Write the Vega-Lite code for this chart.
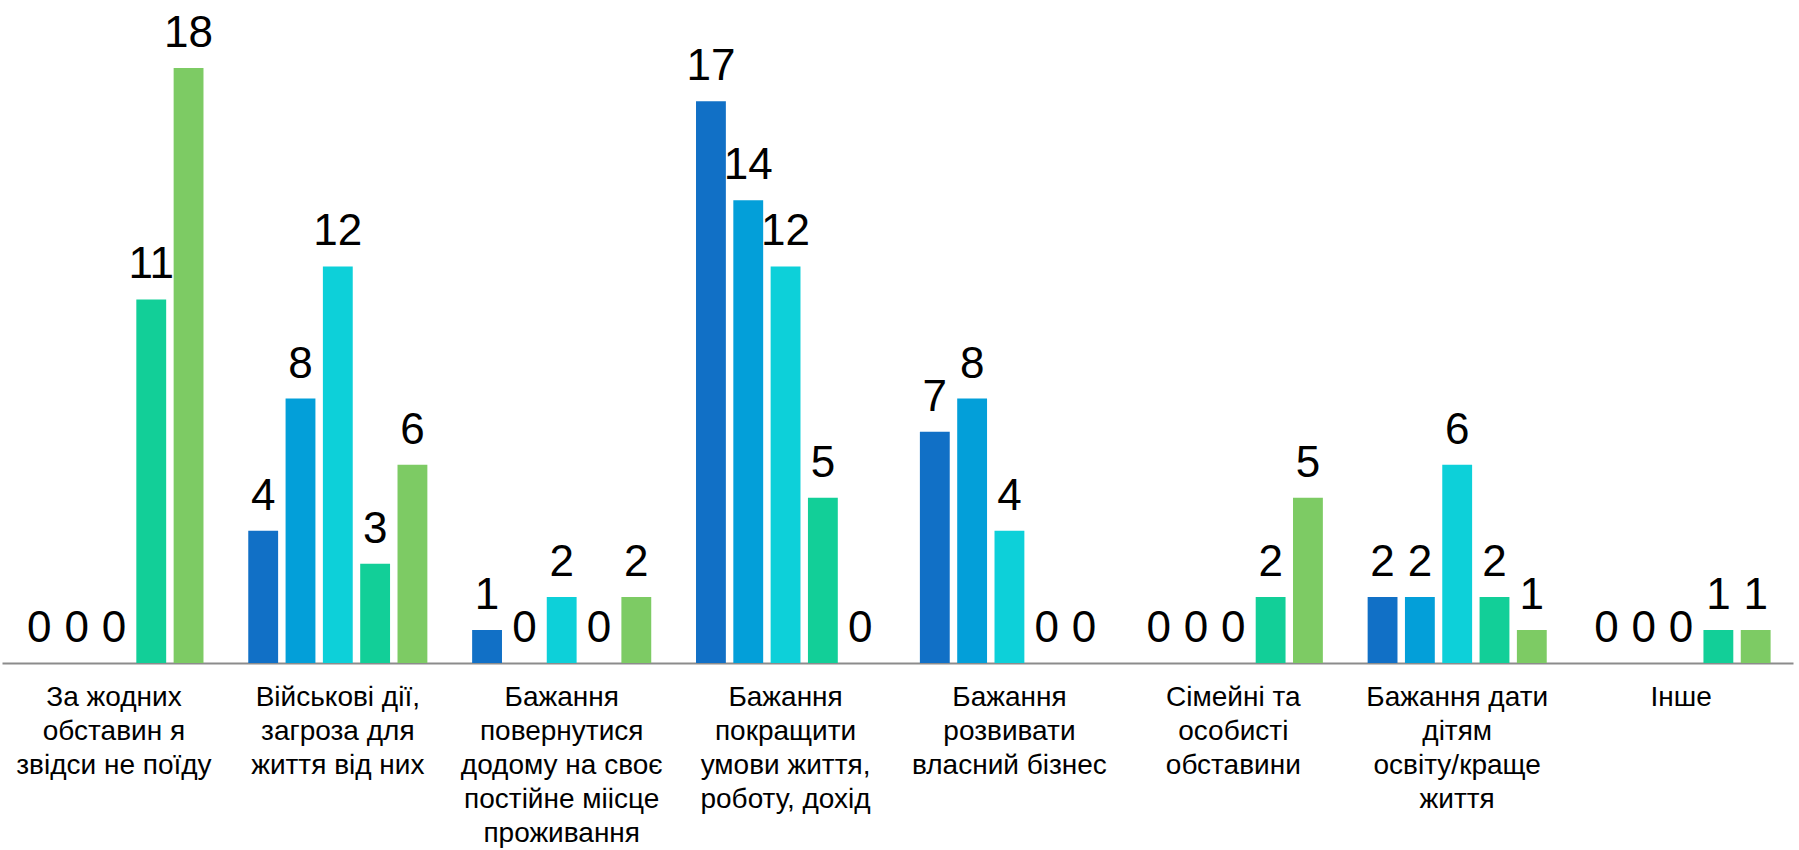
{
  "$schema": "https://vega.github.io/schema/vega-lite/v6.json",
  "width": 1791,
  "height": 661,
  "autosize": "none",
  "padding": {"left": 2, "top": 2, "right": 6, "bottom": 187},
  "background": "white",
  "data": {
    "values": [
      {"category": "За жодних|обставин я|звідси не поїду", "series": "s1", "value": 0},
      {"category": "За жодних|обставин я|звідси не поїду", "series": "s2", "value": 0},
      {"category": "За жодних|обставин я|звідси не поїду", "series": "s3", "value": 0},
      {"category": "За жодних|обставин я|звідси не поїду", "series": "s4", "value": 11},
      {"category": "За жодних|обставин я|звідси не поїду", "series": "s5", "value": 18},
      {"category": "Військові дії,|загроза для|життя від них", "series": "s1", "value": 4},
      {"category": "Військові дії,|загроза для|життя від них", "series": "s2", "value": 8},
      {"category": "Військові дії,|загроза для|життя від них", "series": "s3", "value": 12},
      {"category": "Військові дії,|загроза для|життя від них", "series": "s4", "value": 3},
      {"category": "Військові дії,|загроза для|життя від них", "series": "s5", "value": 6},
      {"category": "Бажання|повернутися|додому на своє|постійне міісце|проживання", "series": "s1", "value": 1},
      {"category": "Бажання|повернутися|додому на своє|постійне міісце|проживання", "series": "s2", "value": 0},
      {"category": "Бажання|повернутися|додому на своє|постійне міісце|проживання", "series": "s3", "value": 2},
      {"category": "Бажання|повернутися|додому на своє|постійне міісце|проживання", "series": "s4", "value": 0},
      {"category": "Бажання|повернутися|додому на своє|постійне міісце|проживання", "series": "s5", "value": 2},
      {"category": "Бажання|покращити|умови життя,|роботу, дохід", "series": "s1", "value": 17},
      {"category": "Бажання|покращити|умови життя,|роботу, дохід", "series": "s2", "value": 14},
      {"category": "Бажання|покращити|умови життя,|роботу, дохід", "series": "s3", "value": 12},
      {"category": "Бажання|покращити|умови життя,|роботу, дохід", "series": "s4", "value": 5},
      {"category": "Бажання|покращити|умови життя,|роботу, дохід", "series": "s5", "value": 0},
      {"category": "Бажання|розвивати|власний бізнес", "series": "s1", "value": 7},
      {"category": "Бажання|розвивати|власний бізнес", "series": "s2", "value": 8},
      {"category": "Бажання|розвивати|власний бізнес", "series": "s3", "value": 4},
      {"category": "Бажання|розвивати|власний бізнес", "series": "s4", "value": 0},
      {"category": "Бажання|розвивати|власний бізнес", "series": "s5", "value": 0},
      {"category": "Сімейні та|особисті|обставини", "series": "s1", "value": 0},
      {"category": "Сімейні та|особисті|обставини", "series": "s2", "value": 0},
      {"category": "Сімейні та|особисті|обставини", "series": "s3", "value": 0},
      {"category": "Сімейні та|особисті|обставини", "series": "s4", "value": 2},
      {"category": "Сімейні та|особисті|обставини", "series": "s5", "value": 5},
      {"category": "Бажання дати|дітям|освіту/краще|життя", "series": "s1", "value": 2},
      {"category": "Бажання дати|дітям|освіту/краще|життя", "series": "s2", "value": 2},
      {"category": "Бажання дати|дітям|освіту/краще|життя", "series": "s3", "value": 6},
      {"category": "Бажання дати|дітям|освіту/краще|життя", "series": "s4", "value": 2},
      {"category": "Бажання дати|дітям|освіту/краще|життя", "series": "s5", "value": 1},
      {"category": "Інше", "series": "s1", "value": 0},
      {"category": "Інше", "series": "s2", "value": 0},
      {"category": "Інше", "series": "s3", "value": 0},
      {"category": "Інше", "series": "s4", "value": 1},
      {"category": "Інше", "series": "s5", "value": 1}
    ]
  },
  "encoding": {
    "x": {
      "field": "category", "type": "nominal", "sort": null,
      "scale": {"paddingInner": 0, "paddingOuter": 0},
      "axis": {
        "title": null, "labelAngle": 0, "labelLimit": 0, "ticks": false,
        "labelExpr": "split(datum.label, '|')",
        "labelFont": "Liberation Sans", "labelFontSize": 28, "labelLineHeight": 34,
        "labelColor": "#000000", "labelPadding": 20, "labelBaseline": "top",
        "domainColor": "#8c8c8c", "domainWidth": 2
      }
    },
    "xOffset": {"field": "series", "type": "nominal", "scale": {"paddingInner": 0.2, "paddingOuter": 0.6}},
    "y": {"field": "value", "type": "quantitative", "scale": {"domain": [0, 20]}, "axis": null}
  },
  "layer": [
    {
      "mark": {"type": "bar"},
      "encoding": {
        "color": {
          "field": "series", "type": "nominal", "legend": null,
          "scale": {"domain": ["s1", "s2", "s3", "s4", "s5"], "range": ["#1170c6", "#039fd9", "#0dd0d9", "#12cf98", "#7dcb64"]}
        }
      }
    },
    {
      "mark": {"type": "text", "font": "Liberation Sans", "fontSize": 44, "color": "#000000", "baseline": "alphabetic", "dy": -21},
      "encoding": {"text": {"field": "value", "type": "quantitative"}}
    }
  ],
  "config": {"view": {"stroke": null}}
}
